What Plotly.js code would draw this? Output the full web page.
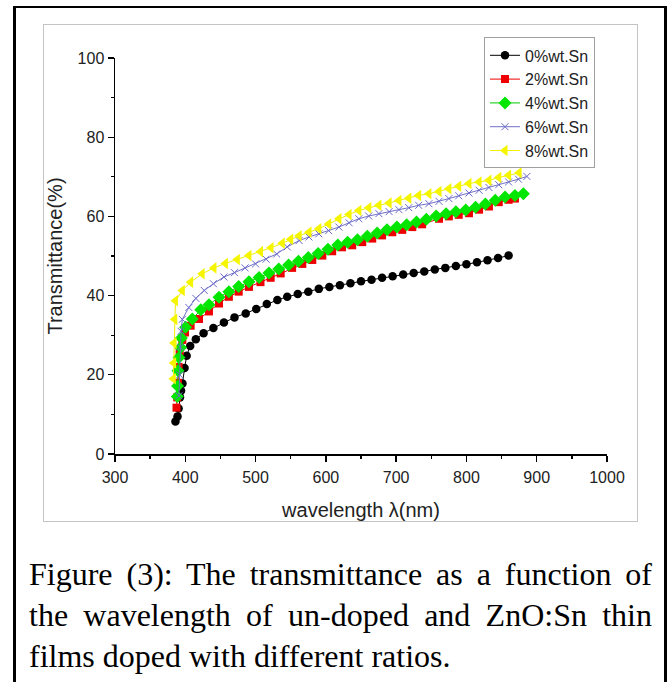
<!DOCTYPE html>
<html>
<head>
<meta charset="utf-8">
<script src="https://cdn.plot.ly/plotly-3.0.1.min.js"></script>
<style>
  html, body { margin: 0; padding: 0; background: #fff; width: 670px; height: 682px; overflow: hidden; }
  #outer { position: absolute; left: 13px; top: 6px; width: 648px; height: 700px; border-left: 3px solid #000; border-right: 3px solid #000; border-top: 2.5px solid #000; }
  #frame { position: absolute; left: 43px; top: 24px; width: 593px; height: 496px; border: 1.5px solid #c4c4c4; }
  #plot { position: absolute; left: 0; top: 0; width: 593px; height: 496px; }
  #caption { position: absolute; left: 29px; top: 554px; width: 623px; font-family: "Liberation Serif", "Times New Roman", serif; font-size: 32px; line-height: 41px; color: #000; }
  .j2 { text-align: justify; text-align-last: justify; }
</style>
</head>
<body>
<div id="outer"></div>
<div id="frame"><div id="plot"></div></div>
<div id="caption">
  <div class="j2">Figure (3): The transmittance as a function of</div>
  <div class="j2">the wavelength of un-doped and ZnO:Sn thin</div>
  <div>films doped with different ratios.</div>
</div>
<script>
// ---- data ----
const seriesNames = ["0%wt.Sn", "2%wt.Sn", "4%wt.Sn", "6%wt.Sn", "8%wt.Sn"];

const x0 = [386, 389, 390.5, 392.5, 394, 396, 399, 402, 407, 415, 426, 440, 455, 470, 486, 501, 516, 531, 545, 560, 575, 590, 605, 620, 635, 650, 665, 680, 695, 710, 725, 740, 755, 770, 785, 800, 815, 830, 845, 860];
const y0 = [8.2, 9.5, 11.5, 14.3, 16, 17.8, 21.7, 24.8, 27.3, 29, 30.5, 31.8, 33.2, 34.5, 35.5, 36.6, 37.9, 38.9, 39.7, 40.4, 41, 41.7, 42.2, 42.6, 43.1, 43.6, 44, 44.5, 44.9, 45.3, 45.7, 46.1, 46.6, 47, 47.5, 47.9, 48.4, 48.9, 49.5, 50.1];

const x2 = [387.5, 388.5, 389.5, 390.5, 392, 395.8, 399.6, 407.6, 419.5, 433.7, 448, 462, 476, 490.6, 507, 521.5, 535.7, 552, 566.5, 580.7, 595, 609, 623, 637.5, 651.8, 666, 680, 694.5, 708.7, 723, 737, 761, 775, 789, 803.6, 818, 832, 846, 860, 869];
const y2 = [11.7, 14.3, 18, 22, 26, 28.8, 30.7, 32.4, 34.1, 36.0, 38.0, 39.7, 41.0, 42.2, 43.4, 44.5, 45.6, 47, 48, 49, 50.1, 51.2, 52.2, 52.7, 53.5, 54.4, 55.2, 56, 56.6, 57.3, 58, 59.4, 60, 60.4, 60.8, 61.7, 62.5, 63.6, 64.2, 64.5];

const x4 = [388.7, 389, 389.6, 391, 393.4, 394.4, 400.5, 410, 422, 433.7, 448, 462, 476, 490.6, 505, 519, 533, 547, 561, 575, 589, 603, 617, 631, 645, 659, 673, 687, 701, 715, 729, 743, 757, 771, 785, 799, 813, 827, 841, 855, 869, 881];
const y4 = [14.5, 17.2, 21, 24.4, 26.9, 29.3, 32, 34.1, 36.4, 37.7, 39.6, 41.0, 42.3, 43.5, 44.6, 45.7, 46.7, 47.7, 48.7, 49.6, 50.6, 51.7, 52.8, 53.5, 54.1, 55.0, 55.8, 56.6, 57.3, 57.9, 58.6, 59.3, 60.1, 60.7, 61.2, 61.6, 62.3, 63.1, 64.1, 64.9, 65.3, 65.7];

const x6 = [391, 392, 393, 394, 395.8, 405, 415, 427, 440, 455, 470, 485, 500, 515, 530, 545, 562, 576, 590, 604, 618.6, 633, 647, 661, 675.5, 690, 704, 718, 732, 746.6, 761, 775, 789, 803.6, 818, 832, 846, 860, 874, 886];
const y6 = [14.7, 20, 27, 31, 34, 37, 39.3, 41.3, 43, 44.7, 45.8, 47, 48, 49.2, 50.5, 52.3, 53.9, 54.8, 55.6, 56.4, 57.3, 58.4, 59.4, 60.1, 60.7, 61.2, 61.7, 62.2, 62.8, 63.2, 63.8, 64.5, 65.2, 65.9, 66.6, 67.3, 68, 68.7, 69.4, 70.1];

const x8 = [383, 383.5, 384, 385, 386, 395.8, 407.6, 424, 440.8, 457, 474, 490.6, 507, 522, 538, 550, 562, 576, 590, 604, 618.6, 633, 647, 661, 675.5, 690, 704, 718, 732, 746.6, 761, 775, 789, 803.6, 818, 832, 846, 860, 875];
const y8 = [19, 23, 28, 34, 38.7, 41.3, 43.4, 45.5, 47.0, 48.1, 49.1, 50.1, 51.1, 52.1, 53.2, 54.2, 55.1, 56, 56.9, 58.1, 59.4, 60.5, 61.5, 62.2, 62.8, 63.4, 64, 64.6, 65.3, 65.7, 66.3, 67, 67.6, 68.3, 68.7, 69.1, 69.8, 70.4, 71];

const xTickVals = [300, 400, 500, 600, 700, 800, 900, 1000];
const yTickVals = [0, 20, 40, 60, 80, 100];

// ---- traces ----
const styles = [
  {color: "#000000", line: "#000000", symbol: "circle", size: 8.5},
  {color: "#ee0000", line: "#ee0000", symbol: "square", size: 8},
  {color: "#00e600", line: "#00cc00", symbol: "diamond", size: 10},
  {color: "#6a6ac8", line: "#7070c8", symbol: "x-thin-open", size: 7},
  {color: "#f5f500", line: "#f0f000", symbol: "triangle-left", size: 10}
];
const xs = [x0, x2, x4, x6, x8];
const ys = [y0, y2, y4, y6, y8];

const traces = seriesNames.map((name, i) => ({
  type: "scatter",
  mode: "lines+markers",
  name: name,
  x: xs[i],
  y: ys[i],
  line: {color: styles[i].line, width: 1},
  marker: {
    color: styles[i].color,
    symbol: styles[i].symbol,
    size: styles[i].size,
    line: {color: styles[i].color, width: styles[i].symbol === "x-thin-open" ? 1 : 0}
  }
}));

const tickFont = {family: "Liberation Sans, Arial, sans-serif", size: 16, color: "#222"};

const layout = {
  width: 593,
  height: 496,
  margin: {l: 71, r: 30, t: 33, b: 67},
  paper_bgcolor: "#ffffff",
  plot_bgcolor: "#ffffff",
  showlegend: true,
  legend: {
    x: 0.75, y: 1.052, xanchor: "left", yanchor: "top",
    bgcolor: "#ffffff", bordercolor: "#a0a0a0", borderwidth: 1,
    font: {family: "Liberation Sans, Arial, sans-serif", size: 16, color: "#222"},
    itemwidth: 30
  },
  xaxis: {
    range: [300, 1000],
    tickvals: xTickVals,
    ticks: "outside", ticklen: 6, tickwidth: 1.3, tickcolor: "#000",
    ticklabelstandoff: 2,
    minor: {dtick: 50, tick0: 300, ticks: "outside", ticklen: 3, tickwidth: 1.3, tickcolor: "#000", showgrid: false},
    showline: true, linecolor: "#000", linewidth: 1.5,
    showgrid: false, zeroline: false,
    tickfont: tickFont,
    title: {text: "wavelength λ(nm)", font: {family: "Liberation Sans, Arial, sans-serif", size: 20, color: "#222"}, standoff: 18}
  },
  yaxis: {
    range: [0, 100],
    tickvals: yTickVals,
    ticks: "outside", ticklen: 6, tickwidth: 1.3, tickcolor: "#000",
    minor: {dtick: 10, tick0: 0, ticks: "outside", ticklen: 3, tickwidth: 1.3, tickcolor: "#000", showgrid: false},
    showline: true, linecolor: "#000", linewidth: 1.5,
    showgrid: false, zeroline: false,
    tickfont: tickFont,
    title: {text: "Transmittance(%)", font: {family: "Liberation Sans, Arial, sans-serif", size: 20, color: "#222"}, standoff: 10}
  }
};

Plotly.newPlot("plot", traces, layout, {staticPlot: true, displayModeBar: false});
</script>
</body>
</html>
